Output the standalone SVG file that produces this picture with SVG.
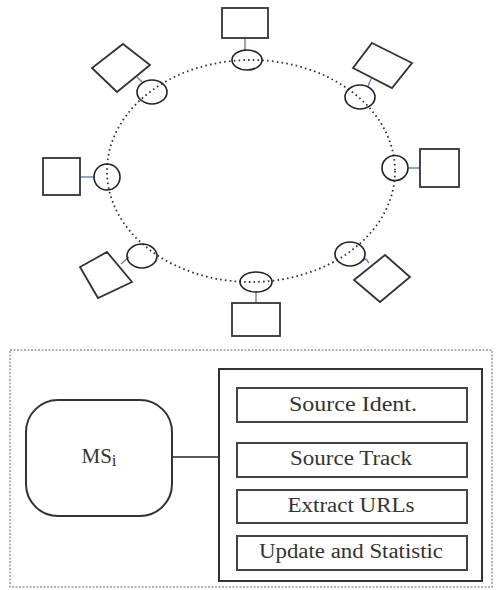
<svg xmlns="http://www.w3.org/2000/svg" width="497" height="590" viewBox="0 0 497 590">
  <style>
    .ring { fill: none; stroke: #333; stroke-width: 1.8; stroke-dasharray: 1.6 3.2; }
    .peer { fill: none; stroke: #222; stroke-width: 1.6; }
    .host { fill: #fff; stroke: #333; stroke-width: 1.8; }
    .link { fill: none; stroke: #6a88b0; stroke-width: 1.5; }
    .wire { fill: none; stroke: #222; stroke-width: 1.6; }
    .frame { fill: none; stroke: #9a9a9a; stroke-width: 1.5; stroke-dasharray: 2 1.5; }
    .box { fill: #fff; stroke: #333; stroke-width: 2; }
    .step { fill: #fff; stroke: #444; stroke-width: 2; }
    text { font-family: 'Liberation Serif', 'Times New Roman', Times, 'DejaVu Serif', serif; font-size: 20px; fill: #333; text-anchor: middle; }
  </style>

  <!-- overlay ring -->
  <ellipse class="ring" cx="251" cy="171" rx="144" ry="111"/>

  <!-- links between hosts and ring peers -->
  <g id="connectors">
    <line class="link" x1="245" y1="38" x2="245" y2="50"/>
    <line class="link" x1="368" y1="86" x2="371" y2="79"/>
    <line class="link" x1="408" y1="168" x2="420" y2="168"/>
    <polyline class="link" points="361,261 366,259 369,263"/>
    <line class="link" x1="256" y1="292" x2="256" y2="303"/>
    <line class="link" x1="129" y1="257" x2="121" y2="264"/>
    <line class="link" x1="80" y1="177" x2="94" y2="177"/>
    <line class="link" x1="137" y1="77" x2="142" y2="82"/>
    <line class="wire" x1="172" y1="457" x2="219" y2="457"/>
  </g>

  <!-- ring peers with their hosts -->
  <g id="node-top">
    <rect class="host" x="222" y="8" width="46" height="30"/>
    <ellipse class="peer" cx="247" cy="60" rx="15" ry="10"/>
  </g>
  <g id="node-upper-right">
    <polygon class="host" points="372,43 412,63 392,88 353,68"/>
    <ellipse class="peer" cx="360" cy="97" rx="15" ry="12"/>
  </g>
  <g id="node-right">
    <rect class="host" x="420" y="149" width="39" height="38"/>
    <ellipse class="peer" cx="395" cy="168" rx="13" ry="12.5"/>
  </g>
  <g id="node-lower-right">
    <polygon class="host" points="385,255 410,277 380,302 354,280"/>
    <ellipse class="peer" cx="350" cy="254" rx="15" ry="12"/>
  </g>
  <g id="node-bottom">
    <rect class="host" x="232" y="303" width="48" height="33"/>
    <ellipse class="peer" cx="256" cy="282" rx="16" ry="10"/>
  </g>
  <g id="node-lower-left">
    <polygon class="host" points="107,252 132,282 98,298 80,267"/>
    <ellipse class="peer" cx="142" cy="256" rx="15" ry="12"/>
  </g>
  <g id="node-left">
    <rect class="host" x="43" y="158" width="37" height="37"/>
    <ellipse class="peer" cx="107" cy="177" rx="13" ry="13"/>
  </g>
  <g id="node-upper-left">
    <polygon class="host" points="123,44 150,65 117,92 92,68"/>
    <ellipse class="peer" cx="152" cy="92" rx="15" ry="12"/>
  </g>

  <!-- detail of a single member -->
  <rect class="frame" x="10" y="350" width="482" height="237"/>

  <g id="ms-node">
    <rect class="box" x="26" y="400" width="146" height="116" rx="32" ry="32"/>
    <text x="99" y="463" style="font-size:21px">MS<tspan style="font-size:17px" dy="3">i</tspan></text>
  </g>

  <g id="modules">
    <rect class="box" x="219" y="369" width="263" height="212"/>
  </g>
  <g id="source-ident">
    <rect class="step" x="237" y="388" width="230" height="34"/>
    <text x="353" y="411" textLength="128" lengthAdjust="spacingAndGlyphs">Source Ident.</text>
  </g>
  <g id="source-track">
    <rect class="step" x="237" y="443" width="230" height="34"/>
    <text x="351" y="465" textLength="122" lengthAdjust="spacingAndGlyphs">Source Track</text>
  </g>
  <g id="extract-urls">
    <rect class="step" x="237" y="490" width="230" height="33"/>
    <text x="351" y="512" textLength="127" lengthAdjust="spacingAndGlyphs">Extract URLs</text>
  </g>
  <g id="update-statistic">
    <rect class="step" x="237" y="536" width="230" height="34"/>
    <text x="351" y="558" textLength="184" lengthAdjust="spacingAndGlyphs">Update and Statistic</text>
  </g>
</svg>
